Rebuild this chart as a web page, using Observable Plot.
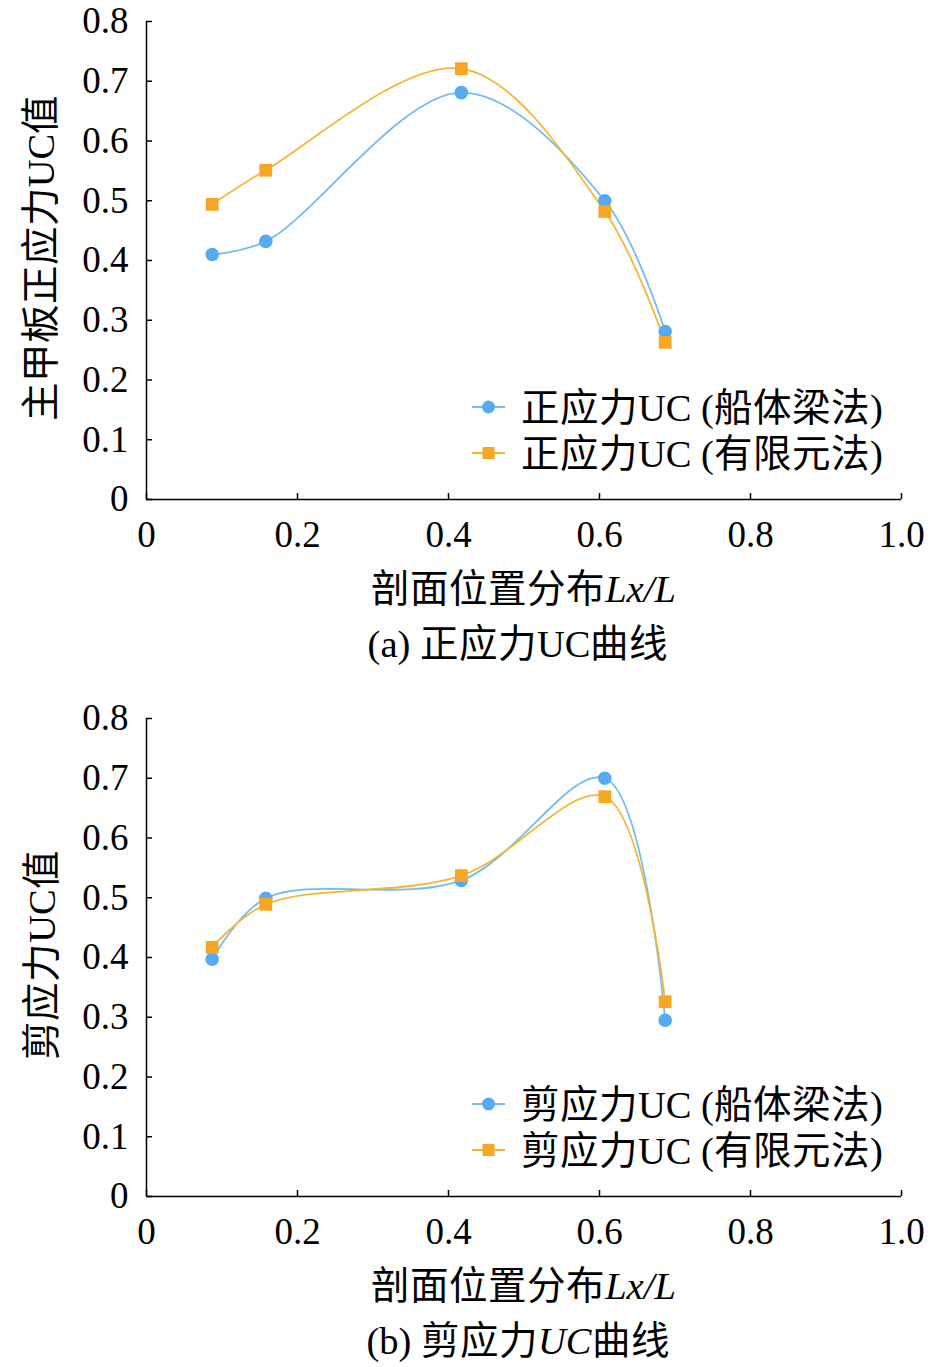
<!DOCTYPE html>
<html>
<head>
<meta charset="utf-8">
<script src="https://cdn.jsdelivr.net/npm/d3@7"></script>
<script src="https://cdn.jsdelivr.net/npm/@observablehq/plot@0.6"></script>
<style>
  @font-face {
    font-family: "CJKTight";
    src: local("Noto Sans CJK SC Regular"), local("NotoSansCJKsc-Regular"), local("Noto Sans CJK SC");
    ascent-override: 88%; descent-override: 12%; line-gap-override: 0%;
  }
  body { margin: 0; background: #fff; }
  .panel { position: relative; width: 945px; height: 697px; font-family: "Liberation Serif", "CJKTight", "Noto Sans CJK SC", serif; color: #000; }
  .panel > svg { position: absolute; left: 0; top: 0; }
  .txt { position: absolute; font-size: 38.5px; line-height: 42px; height: 42px; white-space: nowrap; }
  .lat { font-family: "Liberation Serif", serif; }
  .cjk { font-family: "CJKTight", "Noto Sans CJK SC", sans-serif; }
  .legend { position: absolute; left: 472px; top: 0; font-size: 38.5px; }
  .legrow { position: absolute; left: 0; height: 42px; line-height: 42px; display: flex; align-items: center; white-space: nowrap; }
  .legrow svg { margin-right: 16px; }
  .ylab { position: absolute; font-size: 38.5px; line-height: 42px; height: 42px; white-space: nowrap; transform-origin: center center; }
</style>
</head>
<body>
<div id="root"></div>
<script>
// ---- data ----
const xPos = [0.087, 0.158, 0.417, 0.607, 0.687];
const normalBeam = [0.410, 0.432, 0.681, 0.500, 0.281];
const normalFEM  = [0.494, 0.551, 0.721, 0.482, 0.263];
const shearBeam  = [0.397, 0.499, 0.529, 0.700, 0.295];
const shearFEM   = [0.417, 0.489, 0.537, 0.669, 0.326];
const xTicks = [0, 0.2, 0.4, 0.6, 0.8, 1.0];
const xTickLabels = ["0", "0.2", "0.4", "0.6", "0.8", "1.0"];
const yTicks = [0, 0.1, 0.2, 0.3, 0.4, 0.5, 0.6, 0.7, 0.8];
const yTickLabels = ["0", "0.1", "0.2", "0.3", "0.4", "0.5", "0.6", "0.7", "0.8"];
const blueMarker = "#55aaf0", blueLine = "#6fbdf0";
const orangeMarker = "#f5a623", orangeLine = "#f6b635";

const panels = [
  { ylabel: "主甲板正应力UC值", s1: normalBeam, s2: normalFEM,
    leg1: "正应力UC (船体梁法)", leg2: "正应力UC (有限元法)",
    xlabel: "剖面位置分布<i>Lx/L</i>", caption: "(a) 正应力UC曲线" },
  { ylabel: "剪应力UC值", s1: shearBeam, s2: shearFEM,
    leg1: "剪应力UC (船体梁法)", leg2: "剪应力UC (有限元法)",
    xlabel: "剖面位置分布<i>Lx/L</i>", caption: "(b) 剪应力<i>UC</i>曲线" }
];

// wrap latin / CJK runs in explicit font spans (keeps html tags)
function fontRuns(html) {
  return html.replace(/(<[^>]+>)|([\u3400-\u9fff\uff00-\uffef]+)|([^<\u3400-\u9fff\uff00-\uffef]+)/g,
    (m, tag, cjk, lat) => tag ? tag : cjk ? `<span class="cjk">${cjk}</span>` : `<span class="lat">${lat}</span>`);
}

const font = "'Liberation Serif','Noto Sans CJK SC',serif";
const root = document.getElementById("root");

for (const p of panels) {
  const d1 = xPos.map((x, i) => ({x, y: p.s1[i]}));
  const d2 = xPos.map((x, i) => ({x, y: p.s2[i]}));
  const chart = Plot.plot({
    width: 945, height: 560,
    marginLeft: 146, marginRight: 44, marginTop: 21, marginBottom: 61,
    style: { fontFamily: font, fontSize: "37px", color: "#000", background: "transparent", overflow: "visible" },
    x: { domain: [0, 1] },
    y: { domain: [0, 0.8] },
    marks: [
      Plot.axisX({ ticks: xTicks, tickSize: 0, tickPadding: 21, tickFormat: (d) => xTickLabels[xTicks.indexOf(d)], label: null }),
      Plot.axisY({ ticks: yTicks, tickSize: 0, tickPadding: 18, tickFormat: (d) => yTickLabels[yTicks.findIndex(t => Math.abs(t - d) < 1e-9)], label: null }),
      Plot.tickX(xTicks, { x: d => d, insetTop: 472, stroke: "#000", strokeWidth: 1.5 }),
      Plot.tickY(yTicks, { y: d => d, insetRight: 749, stroke: "#000", strokeWidth: 1.5 }),
      Plot.ruleX([0], { stroke: "#000", strokeWidth: 1.5 }),
      Plot.ruleY([0], { stroke: "#000", strokeWidth: 1.5 }),
      Plot.line(d1, { x: "x", y: "y", curve: "catmull-rom", stroke: blueLine, strokeWidth: 1.8 }),
      Plot.line(d2, { x: "x", y: "y", curve: "catmull-rom", stroke: orangeLine, strokeWidth: 1.8 }),
      Plot.dot(d1, { x: "x", y: "y", r: 6.8, symbol: "circle", fill: blueMarker }),
      Plot.dot(d2, { x: "x", y: "y", r: 7.2, symbol: "square", fill: orangeMarker })
    ]
  });
  const div = document.createElement("div");
  div.className = "panel";
  div.appendChild(chart);

  // y axis title (rotated)
  const yl = document.createElement("div");
  yl.className = "ylab";
  yl.innerHTML = fontRuns(p.ylabel);
  div.appendChild(yl);

  const leg = document.createElement("div");
  leg.className = "legend";
  const sym = (line, marker, square) => `<svg width="33" height="14" viewBox="0 0 33 14"><line x1="0" x2="33" y1="7" y2="7" stroke="${line}" stroke-width="1.8"/>` +
    (square ? `<rect x="10.5" y="1" width="12" height="12" fill="${marker}"/>` : `<circle cx="16.5" cy="7" r="6.5" fill="${marker}"/>`) + `</svg>`;
  leg.innerHTML =
    `<div class="legrow" style="top:386px">${sym(blueLine, blueMarker, false)}<span>${fontRuns(p.leg1)}</span></div>` +
    `<div class="legrow" style="top:432px">${sym(orangeLine, orangeMarker, true)}<span>${fontRuns(p.leg2)}</span></div>`;
  div.appendChild(leg);

  const xl = document.createElement("div");
  xl.className = "txt";
  xl.style.left = "0px"; xl.style.width = "1047px"; xl.style.textAlign = "center";
  xl.style.top = "567px";
  xl.innerHTML = fontRuns(p.xlabel);
  div.appendChild(xl);

  const cap = document.createElement("div");
  cap.className = "txt";
  cap.style.left = "0px"; cap.style.width = "1036px"; cap.style.textAlign = "center";
  cap.style.top = "622px";
  cap.innerHTML = fontRuns(p.caption);
  div.appendChild(cap);

  root.appendChild(div);

  // center rotated y label at (40, 258)
  const w = yl.offsetWidth, h = yl.offsetHeight;
  yl.style.left = (40 - w / 2) + "px";
  yl.style.top = (258 - h / 2) + "px";
  yl.style.transform = "rotate(-90deg)";
}
</script>
</body>
</html>
